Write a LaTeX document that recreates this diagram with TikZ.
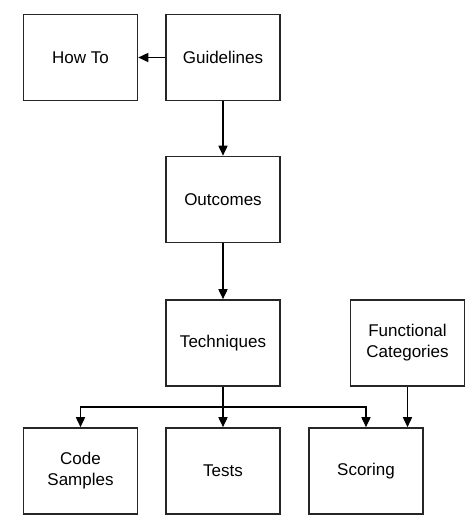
\documentclass[tikz,border=0pt]{standalone}
\usepackage{fontspec}
\setmainfont{Liberation Sans}
\usetikzlibrary{arrows.meta}
\begin{document}
\begin{tikzpicture}[x=1pt,y=-1pt,
  box/.style={draw=black!85,line width=1.6pt,minimum width=114pt,minimum height=86pt,align=center,inner sep=0pt,font=\fontsize{17}{21}\selectfont},
  conn/.style={line width=1.6pt,-{Triangle[length=10pt,width=9pt]}}]
\useasboundingbox (0,0) rectangle (476,531);
\node[box] (howto) at (80.5,57.5) {How To};
\node[box] (guide) at (223,57.5) {Guidelines};
\node[box] (outc) at (223,199.5) {Outcomes};
\node[box] (tech) at (223,343) {Techniques};
\node[box] (func) at (407.5,343) {Functional\\Categories};
\node[box] (code) at (80.5,471) {Code\\Samples};
\node[box] (tests) at (223,471) {Tests};
\node[box] (score) at (366,471) {Scoring};
\coordinate (bus) at (223,407);
\draw[conn] (guide.west) -- (howto.east);
\draw[conn] (guide) -- (outc);
\draw[conn] (outc) -- (tech);
\draw[conn] (tech) -- (tests);
\draw[conn] (tech.south) |- (bus) -| (code.north);
\draw[conn] (bus) -| (score.north);
\draw[conn] (func.south) -- (func.south |- score.north);
\end{tikzpicture}
\end{document}
